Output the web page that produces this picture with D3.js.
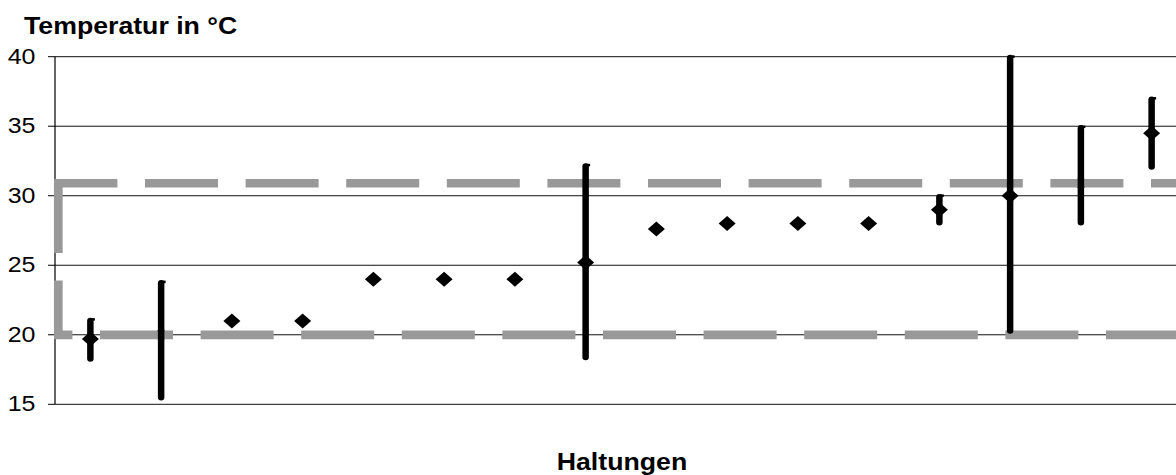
<!DOCTYPE html>
<html>
<head>
<meta charset="utf-8">
<script src="https://cdn.jsdelivr.net/npm/d3@7/dist/d3.min.js"></script>
<style>
  html, body { margin: 0; padding: 0; background: #fff; }
  svg { display: block; }
  text { font-family: "Liberation Sans", Arial, sans-serif; fill: #000; }
</style>
</head>
<body>
<svg id="chart" width="1176" height="475"></svg>
<script>
"use strict";

// Haltungen (no visible labels in the chart)
var categories = ["H1", "H2", "H3", "H4", "H5", "H6", "H7", "H8",
                  "H9", "H10", "H11", "H12", "H13", "H14", "H15", "H16"];

// mean temperature per Haltung
var means = [19.7, 20, 21, 21, 24, 24, 24, 25.2, 27.6, 28, 28, 28, 29, 30, 30.9, 34.5];

// range (min / max), null where no range is shown
var mins = [18.3, 15.5, null, null, null, null, null, 18.4, null, null, null, null, 28.1, 20.3, 28.1, 32.1];
var maxs = [21.0, 23.7, null, null, null, null, null, 32.1, null, null, null, null, 29.9, 39.9, 34.85, 36.9];

// recommended band
var limitLow = 20;
var limitHigh = 30.9;

var yTicks = [15, 20, 25, 30, 35, 40];

var yTitle = "Temperatur in °C";
var xTitle = "Haltungen";

var svg = d3.select('#chart');

var plotLeft = 55, plotRight = 1187, plotTop = 56.7, plotBottom = 404.3;
var stretch = 1.16;   // text in the original is widened horizontally

var x = d3.scaleBand().domain(categories).range([plotLeft, plotRight]).padding(0);
var y = d3.scaleLinear().domain([15, 40]).range([plotBottom, plotTop]);

function cx(i) { return x(categories[i]) + x.bandwidth() / 2; }

// stretch a text element horizontally, keeping its right/left edge
function widen(sel, anchor) {
    sel.each(function() {
        var t = d3.select(this);
        var len = this.getComputedTextLength();
        var x0 = +t.attr('x');
        t.attr('textLength', len * stretch).attr('lengthAdjust', 'spacingAndGlyphs');
        if (anchor === 'end') { t.attr('x', x0 - len * stretch); }
        if (anchor === 'middle') { t.attr('x', x0 - len * stretch / 2); }
    });
}

// grid lines
svg.append('g').selectAll('line')
    .data(yTicks)
    .enter().append('line')
        .attr('x1', plotLeft).attr('x2', 1176)
        .attr('y1', function(d) { return y(d); })
        .attr('y2', function(d) { return y(d); })
        .attr('stroke', '#111')
        .attr('stroke-width', 1);

// y axis line + ticks
svg.append('line')
    .attr('x1', plotLeft).attr('x2', plotLeft)
    .attr('y1', y(40)).attr('y2', y(15))
    .attr('stroke', '#000').attr('stroke-width', 1.2);

svg.append('g').selectAll('line')
    .data(yTicks)
    .enter().append('line')
        .attr('x1', plotLeft - 7).attr('x2', plotLeft)
        .attr('y1', function(d) { return y(d); })
        .attr('y2', function(d) { return y(d); })
        .attr('stroke', '#000');

svg.append('g').selectAll('text')
    .data(yTicks)
    .enter().append('text')
        .attr('x', 35.5)
        .attr('y', function(d) { return y(d) + 7; })
        .style('font-size', '21.5px')
        .text(function(d) { return d; })
        .call(widen, 'end');

// mean markers (drawn under the limit lines)
var pts = means.map(function(m, i) { return { i: i, m: m }; });

svg.append('g').selectAll('path')
    .data(pts)
    .enter().append('path')
        .attr('d', function(d) {
            var px = cx(d.i), py = y(d.m);
            return 'M' + (px - 8.5) + ',' + py + 'L' + px + ',' + (py - 7.5) +
                   'L' + (px + 8.5) + ',' + py + 'L' + px + ',' + (py + 7.5) + 'Z';
        })
        .attr('fill', '#000');

// limit lines (grey dashed band)
var gray = '#999999', lw = 8.7, dash = '73 27.6';
var xa = plotLeft - 1, xv = plotLeft + 3.3;

svg.append('line')
    .attr('x1', xa).attr('x2', 1200)
    .attr('y1', y(limitHigh)).attr('y2', y(limitHigh))
    .attr('stroke', gray).attr('stroke-width', lw)
    .attr('stroke-dasharray', dash).attr('stroke-dashoffset', 9.6);

svg.append('line')
    .attr('x1', xv).attr('x2', xv)
    .attr('y1', y(limitHigh)).attr('y2', y(limitLow))
    .attr('stroke', gray).attr('stroke-width', lw)
    .attr('stroke-dasharray', dash).attr('stroke-dashoffset', 3.3);

svg.append('line')
    .attr('x1', xa).attr('x2', 1200)
    .attr('y1', y(limitLow)).attr('y2', y(limitLow))
    .attr('stroke', gray).attr('stroke-width', lw)
    .attr('stroke-dasharray', dash).attr('stroke-dashoffset', 54.6);

// range bars
var ranges = mins.map(function(mn, i) { return { i: i, lo: mn, hi: maxs[i] }; })
    .filter(function(d) { return d.lo !== null; });

var bars = svg.append('g').selectAll('g')
    .data(ranges)
    .enter().append('g');

bars.append('line')
    .attr('x1', function(d) { return cx(d.i); })
    .attr('x2', function(d) { return cx(d.i); })
    .attr('y1', function(d) { return y(d.hi); })
    .attr('y2', function(d) { return y(d.lo); })
    .attr('stroke', '#000').attr('stroke-width', 6.5)
    .attr('stroke-linecap', 'round');

bars.append('line')
    .attr('x1', function(d) { return cx(d.i); })
    .attr('x2', function(d) { return cx(d.i) + 4.5; })
    .attr('y1', function(d) { return y(d.hi) - 1.5; })
    .attr('y2', function(d) { return y(d.hi) - 1.5; })
    .attr('stroke', '#000').attr('stroke-width', 2.5);

// titles
svg.append('text')
    .attr('x', 24).attr('y', 34)
    .style('font-size', '23px').style('font-weight', 'bold')
    .text(yTitle)
    .call(widen, 'start');

svg.append('text')
    .attr('x', (plotLeft + plotRight) / 2 + 1).attr('y', 469.5)
    .style('font-size', '23px').style('font-weight', 'bold')
    .text(xTitle)
    .call(widen, 'middle');
</script>
</body>
</html>
